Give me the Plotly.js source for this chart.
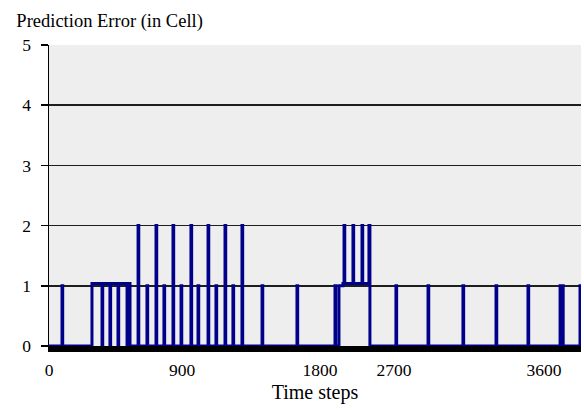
<!DOCTYPE html>
<html>
<head>
<meta charset="utf-8">
<script src="https://cdn.plot.ly/plotly-3.0.1.min.js"></script>
<style>
  html, body { margin: 0; padding: 0; background: #ffffff; }
  #chart { width: 584px; height: 411px; }
</style>
</head>
<body>
<div id="chart"></div>
<script>
// Step series: time at which the prediction error changes, and its new value
const stepTime = [
  0, 92, 97,
  304, 375, 380, 431, 436, 488, 493, 552, 557, 573,
  630, 635, 693, 698, 757, 762, 813, 818, 877, 882, 934, 939,
  1004, 1009, 1054, 1059, 1125, 1130, 1181, 1186, 1245, 1250, 1301, 1306, 1365, 1370,
  1507, 1512, 1754, 1759, 2023, 2028,
  2051, 2079, 2087, 2092, 2150, 2155, 2214, 2219, 2263, 2270,
  2454, 2459, 2681, 2686, 2928, 2933, 3162, 3167, 3388, 3393,
  3615, 3620, 3632, 3637, 3756, 3763
];
const stepValue = [
  0, 1, 0,
  1.04, 0, 1.04, 0, 1.04, 0, 1.04, 0, 1.04, 0,
  2, 0, 1, 0, 2, 0, 1, 0, 2, 0, 1, 0,
  2, 0, 1, 0, 2, 0, 1, 0, 2, 0, 1, 0, 2, 0,
  1, 0, 1, 0, 1, 0,
  1, 1.04, 2, 1.04, 2, 1.04, 2, 1.04, 2, 0,
  1, 0, 1, 0, 1, 0, 1, 0, 1, 0,
  1, 0, 1, 0, 1, 1
];
// Axis tick positions (category-style labels of the original)
const xTickVals = [0, 941, 1917, 2440, 3501];
const xTickText = ['0', '900', '1800', '2700', '3600'];
const yTickVals = [0, 1, 2, 3, 4, 5];

const trace = {
  x: stepTime,
  y: stepValue,
  type: 'scatter',
  mode: 'lines',
  line: { color: '#00008b', width: 3, shape: 'hv' },
  hoverinfo: 'skip',
  showlegend: false
};

const serif = 'Liberation Serif, Times New Roman, serif';

const layout = {
  width: 584,
  height: 411,
  margin: { l: 49, r: 3, t: 45, b: 65 },
  paper_bgcolor: '#ffffff',
  plot_bgcolor: '#eeeeee',
  font: { family: serif, color: '#000000', size: 17.5 },
  title: {
    text: 'Prediction Error (in Cell)',
    font: { family: serif, size: 18.5, color: '#000000' },
    xref: 'container', yref: 'container',
    x: 0.028, xanchor: 'left',
    y: 0.95, yanchor: 'middle'
  },
  xaxis: {
    range: [0, 3763],
    tickmode: 'array',
    tickvals: xTickVals,
    ticktext: xTickText,
    showgrid: false,
    zeroline: false,
    showline: true,
    linecolor: '#000000',
    linewidth: 6,
    ticks: '',
    ticklabelstandoff: 3,
    tickfont: { family: serif, size: 17.5 },
    title: { text: 'Time steps', font: { family: serif, size: 20 }, standoff: 8 }
  },
  yaxis: {
    range: [0, 5],
    tickmode: 'array',
    tickvals: yTickVals,
    showgrid: true,
    gridcolor: '#1e1e1e',
    gridwidth: 1.5,
    zeroline: false,
    showline: true,
    linecolor: '#000000',
    linewidth: 1.5,
    ticks: 'outside',
    ticklen: 7,
    tickwidth: 1.5,
    tickcolor: '#000000',
    ticklabelstandoff: 6,
    tickfont: { family: serif, size: 17.5 }
  }
};

Plotly.newPlot('chart', [trace], layout, { staticPlot: true, displayModeBar: false });
</script>
</body>
</html>
